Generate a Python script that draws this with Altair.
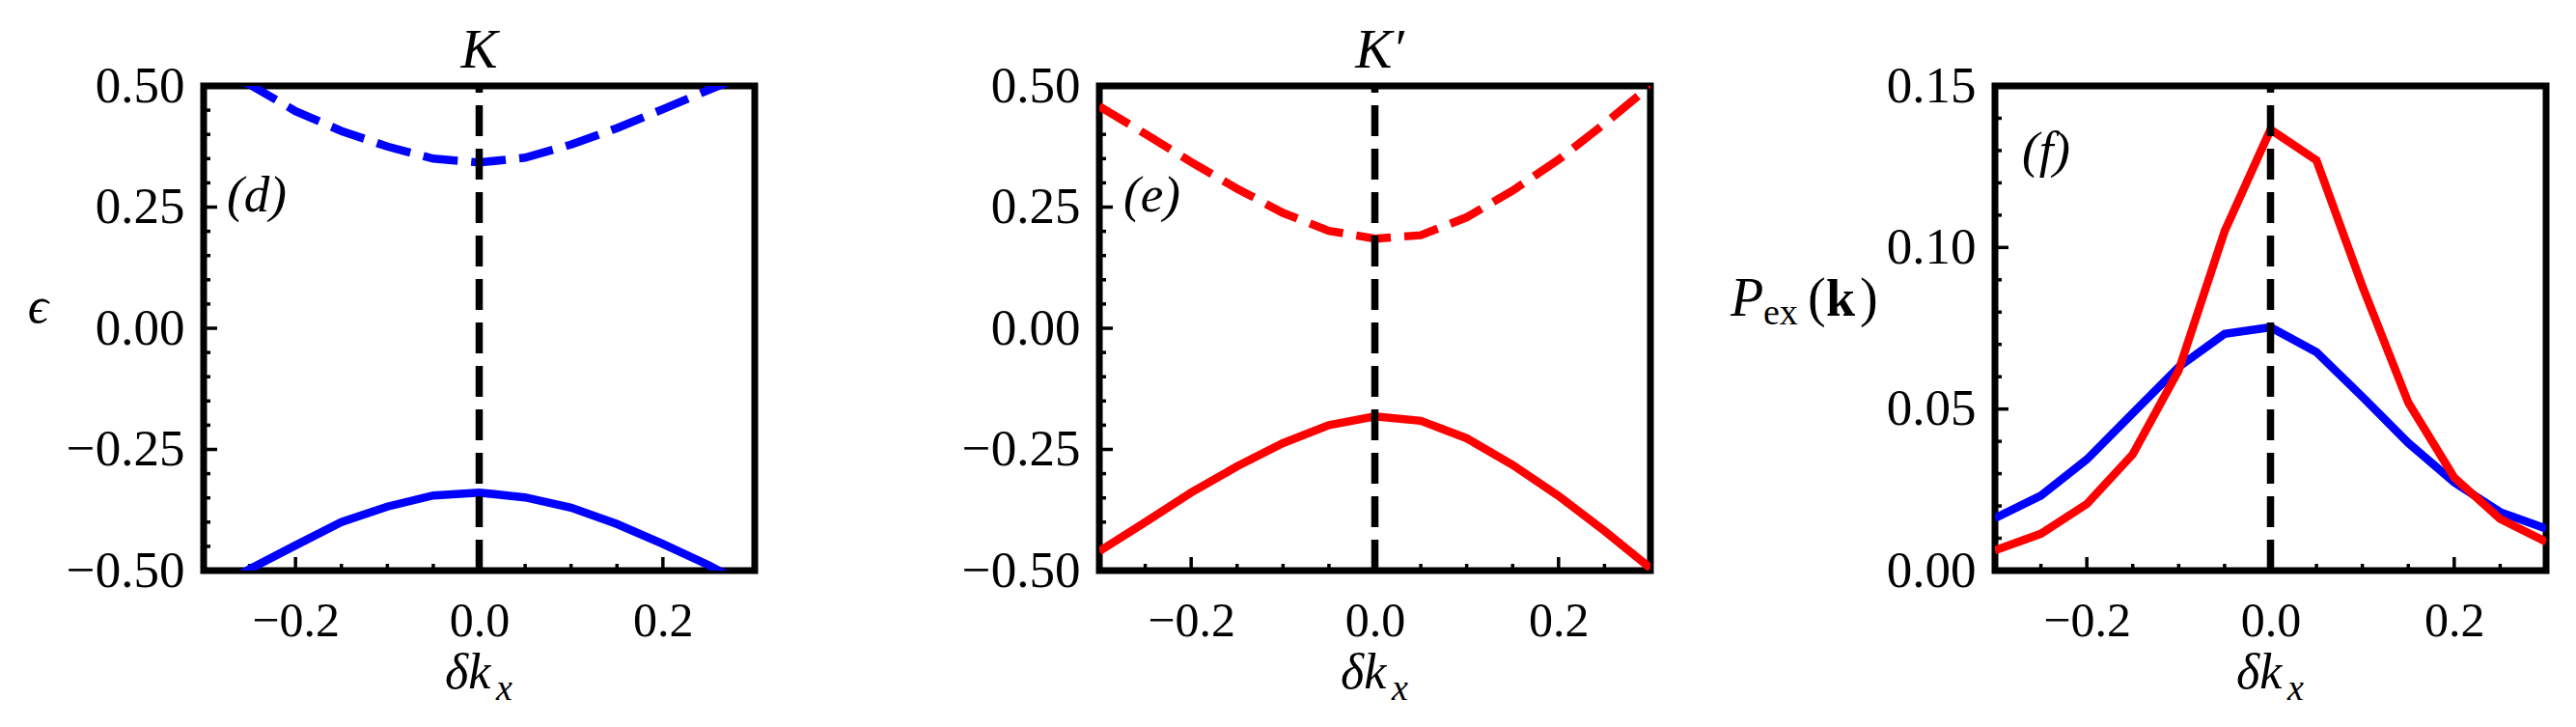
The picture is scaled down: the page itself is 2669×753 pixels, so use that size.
import altair as alt
import pandas as pd

# ---------------- data ----------------
kx = [-0.30, -0.25, -0.20, -0.15, -0.10, -0.05, 0.00, 0.05, 0.10, 0.15, 0.20, 0.25, 0.30]

# panel (d): valley K, blue
K_lower = [-0.555, -0.497, -0.448, -0.400, -0.368, -0.345, -0.339, -0.349, -0.370, -0.404, -0.445, -0.489, -0.540]
K_upper = [0.555, 0.503, 0.448, 0.407, 0.375, 0.350, 0.342, 0.352, 0.379, 0.413, 0.452, 0.492, 0.530]

# panel (e): valley K', red
Kp_lower = [-0.460, -0.400, -0.339, -0.285, -0.237, -0.200, -0.182, -0.191, -0.227, -0.282, -0.346, -0.418, -0.495]
Kp_upper = [0.458, 0.401, 0.343, 0.288, 0.238, 0.201, 0.185, 0.192, 0.229, 0.284, 0.348, 0.422, 0.500]

# panel (f): excitation probability
P_K = [0.0162, 0.0232, 0.0344, 0.0487, 0.0630, 0.0733, 0.0753, 0.0676, 0.0538, 0.0395, 0.0273, 0.0181, 0.0130]
P_Kp = [0.0063, 0.0114, 0.0206, 0.0360, 0.0620, 0.1050, 0.1365, 0.1270, 0.0880, 0.0520, 0.0288, 0.0160, 0.0089]

# tick values
x_major = [-0.2, 0.0, 0.2]
x_minor = [-0.25, -0.15, -0.10, -0.05, 0.05, 0.10, 0.15, 0.25]
eps_labels = [-0.5, -0.25, 0.0, 0.25, 0.5]
eps_major = [-0.25, 0.0, 0.25]
eps_minor = [-0.45, -0.40, -0.35, -0.30, -0.20, -0.15, -0.10, -0.05,
             0.05, 0.10, 0.15, 0.20, 0.30, 0.35, 0.40, 0.45]
p_labels = [0.0, 0.05, 0.10, 0.15]
p_major = [0.05, 0.10]
p_minor = [0.01, 0.02, 0.03, 0.04, 0.06, 0.07, 0.08, 0.09, 0.11, 0.12, 0.13, 0.14]

# ---------------- styling ----------------
W, H = 571, 502
FONT = "Liberation Serif"
FS = 53
BLUE, RED = "#0000ff", "#ff0000"
LW = 8.5
MAJ, MIN = 14, 7
TICKW = 3.5

xscale = alt.Scale(domain=[-0.3, 0.3], nice=False, zero=False)
xaxis = alt.Axis(values=x_major, format=".1f", title=None, labelPadding=27, labelFontSize=50)


def xenc():
    return alt.X("kx:Q", scale=xscale, axis=xaxis)


def yenc(domain, labels, title, **kw):
    ax = alt.Axis(values=labels, format=".2f", title=title, labelPadding=20, **kw)
    return alt.Y("v:Q", scale=alt.Scale(domain=domain, nice=False, zero=False), axis=ax)


def line(xs, ys, color, dashed, y):
    df = pd.DataFrame({"kx": xs, "v": ys})
    props = dict(clip=True, color=color, strokeWidth=LW, strokeCap="butt")
    if dashed:
        props["strokeDash"] = [36, 14]
    return alt.Chart(df).mark_line(**props).encode(x=xenc(), y=y)


def ticks(y, ymaj, ymin):
    layers = []
    for vals, L in ((x_major, MAJ), (x_minor, MIN)):
        layers.append(
            alt.Chart(pd.DataFrame({"kx": vals}))
            .mark_rule(color="black", strokeWidth=TICKW)
            .encode(x=xenc(), y=alt.value(H), y2=alt.value(H - L))
        )
    for vals, L in ((ymaj, MAJ), (ymin, MIN)):
        layers.append(
            alt.Chart(pd.DataFrame({"v": vals}))
            .mark_rule(color="black", strokeWidth=TICKW)
            .encode(y=y, x=alt.value(0), x2=alt.value(L))
        )
    return layers


def vline():
    return (
        alt.Chart(pd.DataFrame({"kx": [0.0]}))
        .mark_rule(color="black", strokeWidth=7.5, strokeDash=[32, 13])
        .encode(x=xenc(), y=alt.value(H), y2=alt.value(0))
    )


def text(s, x, y, size=FS, style="normal", weight="normal", align="left"):
    return (
        alt.Chart(pd.DataFrame({"s": [s]}))
        .mark_text(align=align, baseline="alphabetic", font=FONT, fontSize=size,
                   fontStyle=style, fontWeight=weight, color="black")
        .encode(text="s:N", x=alt.value(x), y=alt.value(y))
    )


def xtitle():
    return [text("δk", 250, 624, 52, "italic"), text("x", 303, 636, 38, "italic")]


# ---------------- panel (d) ----------------
y_d = yenc([-0.5, 0.5], eps_labels, "ϵ", titleAngle=0, titleX=-172, titleY=228,
           titleAlign="center", titleBaseline="middle", titleFontStyle="italic")
panel_d = alt.layer(
    *ticks(y_d, eps_major, eps_minor),
    line(kx, K_upper, BLUE, True, y_d),
    line(kx, K_lower, BLUE, False, y_d),
    vline(),
    text("(d)", 24, 130, FS, "italic"),
    text("K", W / 2, -19, 57, "italic", align="center"),
    *xtitle(),
).properties(width=W, height=H)

# ---------------- panel (e) ----------------
y_e = yenc([-0.5, 0.5], eps_labels, None)
panel_e = alt.layer(
    *ticks(y_e, eps_major, eps_minor),
    line(kx, Kp_upper, RED, True, y_e),
    line(kx, Kp_lower, RED, False, y_e),
    vline(),
    text("(e)", 25, 130, FS, "italic"),
    text("K′", W / 2 + 5, -19, 57, "italic", align="center"),
    *xtitle(),
).properties(width=W, height=H)

# ---------------- panel (f) ----------------
y_f = yenc([0.0, 0.15], p_labels, None)
panel_f = alt.layer(
    *ticks(y_f, p_major, p_minor),
    line(kx, P_K, BLUE, False, y_f),
    line(kx, P_Kp, RED, False, y_f),
    vline(),
    text("(f)", 28, 84, FS, "italic"),
    *xtitle(),
    text("P", -274, 238, 56, "italic"),
    text("ex", -240, 247, 38),
    text("(", -194, 238, 56),
    text("k", -175, 238, 54, "normal", "bold"),
    text(")", -140, 238, 56),
).properties(width=W, height=H)

chart = (
    alt.hconcat(panel_d, panel_e, panel_f, spacing=357, bounds="flush")
    .properties(padding={"left": 16, "top": 12, "right": 5, "bottom": 5})
    .configure_view(stroke="black", strokeWidth=7)
    .configure_axis(
        domain=False, ticks=False, grid=False,
        labelFont=FONT, labelFontSize=FS, labelColor="black",
        labelOverlap=False, labelFlush=False, labelBound=False,
        titleFont=FONT, titleFontSize=FS, titleColor="black", titleFontWeight="normal",
    )
)

chart.save("out.html", embed_options={"renderer": "svg", "actions": False})
